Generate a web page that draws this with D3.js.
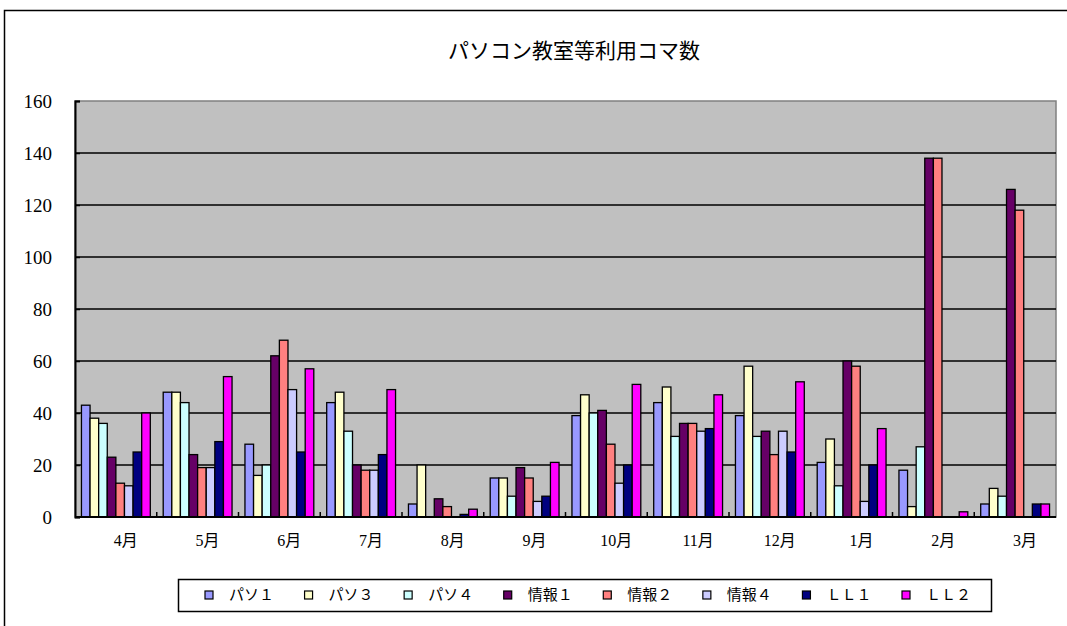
<!DOCTYPE html>
<html>
<head>
<meta charset="utf-8">
<script src="https://cdn.jsdelivr.net/npm/d3@7"></script>
<style>
  html, body { margin: 0; padding: 0; background: #fff; }
  svg { display: block; }
  text { font-family: "Liberation Serif", "DejaVu Serif", "Noto Sans CJK JP", serif; fill: #000; }
</style>
</head>
<body>
<svg id="chart" width="1067" height="626"></svg>
<script>
// Months (April through March, Japanese fiscal year)
const months = ["4月", "5月", "6月", "7月", "8月", "9月", "10月", "11月", "12月", "1月", "2月", "3月"];

// Room names and their fill colours
const rooms = ["パソ１", "パソ３", "パソ４", "情報１", "情報２", "情報４", "ＬＬ１", "ＬＬ２"];
const roomColors = ["#9999FF", "#FFFFCC", "#CCFFFF", "#660066", "#FF8080", "#CCCCFF", "#000080", "#FF00FF"];

// Number of sessions used per month, one array per room
const pc1   = [43, 48, 28, 44,  5, 15, 39, 44, 39, 21,  18,   5];
const pc3   = [38, 48, 16, 48, 20, 15, 47, 50, 58, 30,   4,  11];
const pc4   = [36, 44, 20, 33,  0,  8, 40, 31, 31, 12,  27,   8];
const info1 = [23, 24, 62, 20,  7, 19, 41, 36, 33, 60, 138, 126];
const info2 = [13, 19, 68, 18,  4, 15, 28, 36, 24, 58, 138, 118];
const info4 = [12, 19, 49, 18,  0,  6, 13, 33, 33,  6,   0,   0];
const ll1   = [25, 29, 25, 24,  1,  8, 20, 34, 25, 20,   0,   5];
const ll2   = [40, 54, 57, 49,  3, 21, 51, 47, 52, 34,   2,   5];

const yTicks = [0, 20, 40, 60, 80, 100, 120, 140, 160];
const title = "パソコン教室等利用コマ数";

const seriesValues = [pc1, pc3, pc4, info1, info2, info4, ll1, ll2];

const svg = d3.select("#chart");

// Outer chart frame
svg.append("rect")
  .attr("x", 4.5).attr("y", 10.5)
  .attr("width", 1100).attr("height", 700)
  .attr("fill", "#fff").attr("stroke", "#000").attr("stroke-width", 1.5);

// Plot area geometry
const plot = { left: 75, right: 1056, top: 101, bottom: 517 };

const x = d3.scaleBand().domain(months).range([plot.left, plot.right]).padding(0);
const bw = x.bandwidth();
// 150% gap between category groups: eight bars plus 1.5 bar widths of gap
const unit = bw / 9.5;
const x1 = d3.scaleBand().domain(rooms).range([unit * 0.75, unit * 8.75]).padding(0);
const y = d3.scaleLinear().domain([0, 160]).range([plot.bottom, plot.top]);
const color = d3.scaleOrdinal().domain(rooms).range(roomColors);

// Plot background
svg.append("rect")
  .attr("x", plot.left).attr("y", plot.top)
  .attr("width", plot.right - plot.left).attr("height", plot.bottom - plot.top)
  .attr("fill", "#C0C0C0")
  .attr("stroke", "#808080").attr("stroke-width", 1.5);

// Horizontal gridlines
svg.append("g")
  .selectAll("line")
  .data(yTicks.filter(t => t > 0 && t < 160))
  .join("line")
  .attr("x1", plot.left).attr("x2", plot.right)
  .attr("y1", d => y(d)).attr("y2", d => y(d))
  .attr("stroke", "#000").attr("stroke-width", 1.5);

// Bars
const rows = [];
months.forEach((m, i) => {
  rooms.forEach((r, j) => {
    rows.push({ month: m, room: r, value: seriesValues[j][i] });
  });
});

svg.append("g")
  .selectAll("rect")
  .data(rows.filter(d => d.value > 0))
  .join("rect")
  .attr("x", d => x(d.month) + x1(d.room))
  .attr("y", d => y(d.value))
  .attr("width", x1.bandwidth())
  .attr("height", d => y(0) - y(d.value))
  .attr("fill", d => color(d.room))
  .attr("stroke", "#000").attr("stroke-width", 1.3);

// Y axis (ticks point inward)
const yAxis = d3.axisRight(y).tickValues(yTicks).tickSize(5).tickFormat("");
const yg = svg.append("g").attr("transform", `translate(${plot.left},0)`).call(yAxis);
yg.select(".domain").attr("stroke", "#000").attr("stroke-width", 2);
yg.selectAll(".tick line").attr("stroke", "#000").attr("stroke-width", 1.5);

svg.append("g")
  .selectAll("text")
  .data(yTicks)
  .join("text")
  .attr("x", 52).attr("y", d => y(d))
  .attr("dy", "0.35em")
  .attr("text-anchor", "end")
  .attr("font-size", 19)
  .style("font-family", "'Liberation Serif', 'DejaVu Serif', serif")
  .text(d => d);

// X axis: inward tick marks at category boundaries
const xg = svg.append("g");
xg.append("line")
  .attr("x1", plot.left).attr("x2", plot.right)
  .attr("y1", plot.bottom).attr("y2", plot.bottom)
  .attr("stroke", "#000").attr("stroke-width", 2);
xg.selectAll("line.tk")
  .data(months.slice(1))
  .join("line")
  .attr("class", "tk")
  .attr("x1", d => x(d)).attr("x2", d => x(d))
  .attr("y1", plot.bottom).attr("y2", plot.bottom - 5)
  .attr("stroke", "#000").attr("stroke-width", 1.5);
xg.selectAll("text")
  .data(months)
  .join("text")
  .attr("x", d => x(d) + bw / 2 + 10)
  .attr("y", 546)
  .attr("text-anchor", "middle")
  .attr("font-size", 16)
  .text(d => d);

// Title
svg.append("text")
  .attr("x", 574).attr("y", 58)
  .attr("text-anchor", "middle")
  .attr("font-size", 21)
  .style("font-family", "'Noto Sans CJK JP', sans-serif")
  .text(title);

// Legend
const legend = svg.append("g");
legend.append("rect")
  .attr("x", 178.5).attr("y", 579.5)
  .attr("width", 813).attr("height", 32)
  .attr("fill", "#fff").attr("stroke", "#000").attr("stroke-width", 1.5);

const legendX = d3.scalePoint().domain(rooms).range([205, 902]);
const items = legend.selectAll("g.item")
  .data(rooms)
  .join("g")
  .attr("class", "item")
  .attr("transform", d => `translate(${legendX(d)},595)`);
items.append("rect")
  .attr("x", 0).attr("y", -4)
  .attr("width", 8).attr("height", 8)
  .attr("fill", d => color(d))
  .attr("stroke", "#000").attr("stroke-width", 1.2);
items.append("text")
  .attr("x", 24).attr("y", 0)
  .attr("dy", "0.36em")
  .attr("font-size", 15)
  .style("font-family", "'Noto Sans CJK JP', sans-serif")
  .text(d => d);
</script>
</body>
</html>
